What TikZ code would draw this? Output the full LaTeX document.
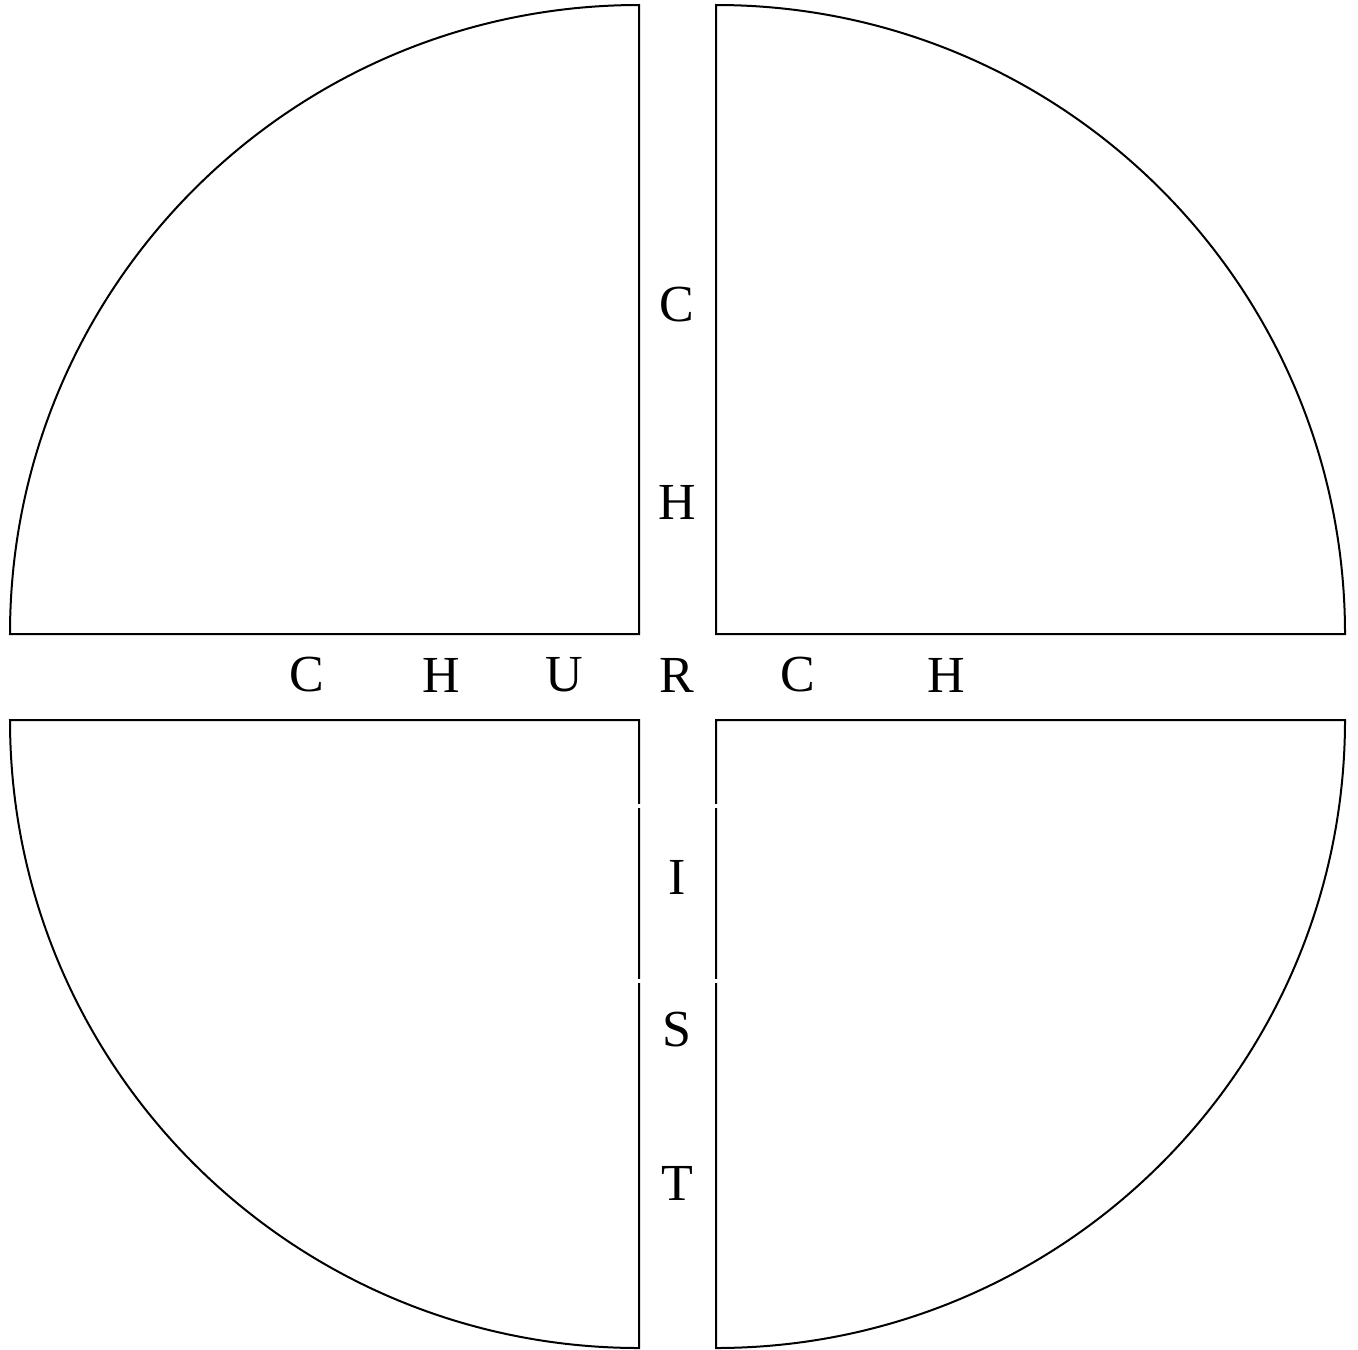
\documentclass[tikz,border=0pt]{standalone}
\usepackage{fontspec}
\setmainfont{Liberation Serif}
\begin{document}
\begin{tikzpicture}[x=0.5pt,y=-0.5pt,
  quad/.style={draw=black,line width=1pt},
  letter/.style={inner sep=0pt,font=\fontsize{26}{30}\selectfont},
  gapline/.style={draw=white,line width=2pt}]
\useasboundingbox (0,0) rectangle (1358,1349);
% quadrants
\draw[quad] (639,634) -- (639,5) arc[start angle=-90,end angle=-180,x radius=629,y radius=629] -- cycle;
\draw[quad] (716,634) -- (716,5) arc[start angle=-90,end angle=0,x radius=629,y radius=629] -- cycle;
\draw[quad] (639,720) -- (639,1348) arc[start angle=90,end angle=180,x radius=629,y radius=628] -- cycle;
\draw[quad] (716,720) -- (716,1348) arc[start angle=90,end angle=0,x radius=629,y radius=628] -- cycle;
% small breaks in the lower vertical lines
\foreach \yy in {805.5,980.5}{
  \draw[gapline] (635,\yy) -- (643,\yy);
  \draw[gapline] (712,\yy) -- (720,\yy);
}
% vertical word
\node[letter] (vC) at (677,305) {C};
\node[letter] (vH) at (677,502) {H};
\node[letter] (R)  at (677,675) {R};
\node[letter] (vI) at (677,877) {I};
\node[letter] (vS) at (677,1030) {S};
\node[letter] (vT) at (677,1183) {T};
% horizontal word
\node[letter] (hC1) at (307,675) {C};
\node[letter] (hH1) at (441,675) {H};
\node[letter] (hU)  at (564,675) {U};
\node[letter] (hC2) at (798,675) {C};
\node[letter] (hH2) at (946,675) {H};
\end{tikzpicture}
\end{document}
